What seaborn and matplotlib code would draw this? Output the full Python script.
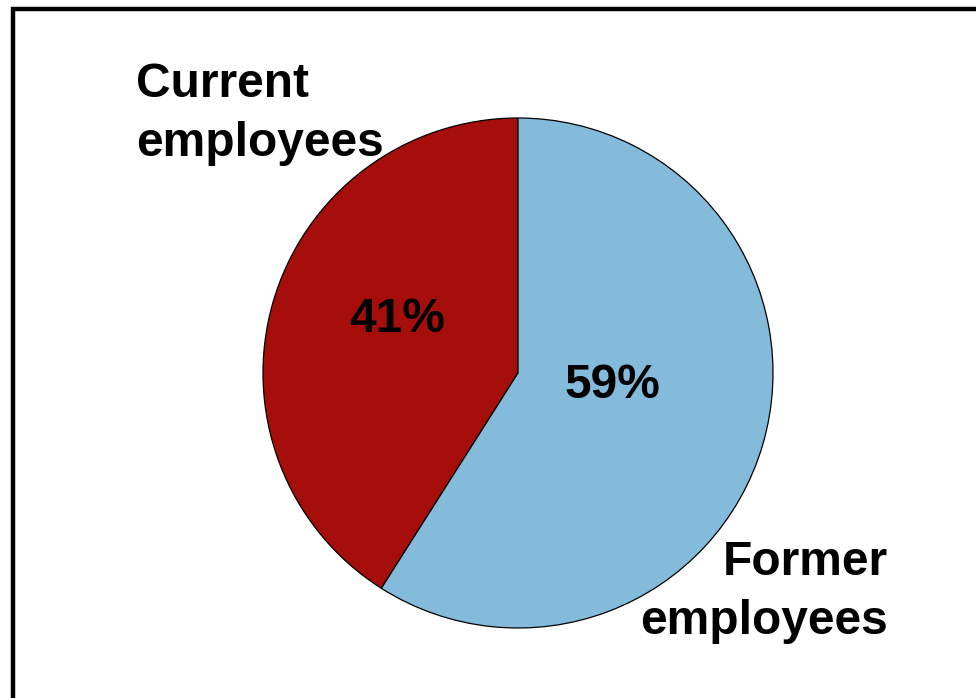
import matplotlib
matplotlib.use("Agg")
import matplotlib.pyplot as plt
import matplotlib.patches as mpatches
import seaborn as sns

categories = ["Current\nemployees", "Former\nemployees"]
shares = [41, 59]
pct_labels = ["41%", "59%"]
colors = ["#A50E0A", "#85BBDA"]

sns.set_theme(style="white")
plt.rcParams['font.family'] = ['Liberation Sans', 'DejaVu Sans']

W, H = 976, 698
fig = plt.figure(figsize=(W / 100, H / 100), dpi=100)
fig.patch.set_facecolor("white")

cx, cy, r = 518, 373, 255
ax = fig.add_axes([(cx - r) / W, (H - cy - r) / H, 2 * r / W, 2 * r / H])
ax.pie(shares, colors=colors, startangle=90, counterclock=True,
       wedgeprops=dict(edgecolor="black", linewidth=0.9), radius=1.0)
ax.set_xlim(-1, 1)
ax.set_ylim(-1, 1)
ax.set_aspect("equal")
ax.axis("off")

fs = 34.5
# percentage labels (data coords relative to pie)
ax.text(-0.475, 0.21, pct_labels[0], ha="center", va="center",
        fontsize=fs, fontweight="bold", color="black")
ax.text(0.37, -0.05, pct_labels[1], ha="center", va="center",
        fontsize=fs, fontweight="bold", color="black")

# category labels (anchored at last-line baseline)
fig.text(136 / W, 1 - 156 / H, categories[0], ha="left", va="baseline",
         fontsize=fs, fontweight="bold", color="black", linespacing=1.40)
fig.text(888 / W, 1 - 634 / H, categories[1], ha="right", va="baseline",
         fontsize=fs, fontweight="bold", color="black", linespacing=1.40,
         multialignment="right")

# frame (right/bottom edges run off the canvas)
rect = mpatches.Rectangle((13 / W, -0.2), 1.2, 1 - 9 / H + 0.2,
                          transform=fig.transFigure, fill=False,
                          edgecolor="black", linewidth=3.2, clip_on=False)
fig.patches.append(rect)

fig.savefig("out.png", dpi=100)
